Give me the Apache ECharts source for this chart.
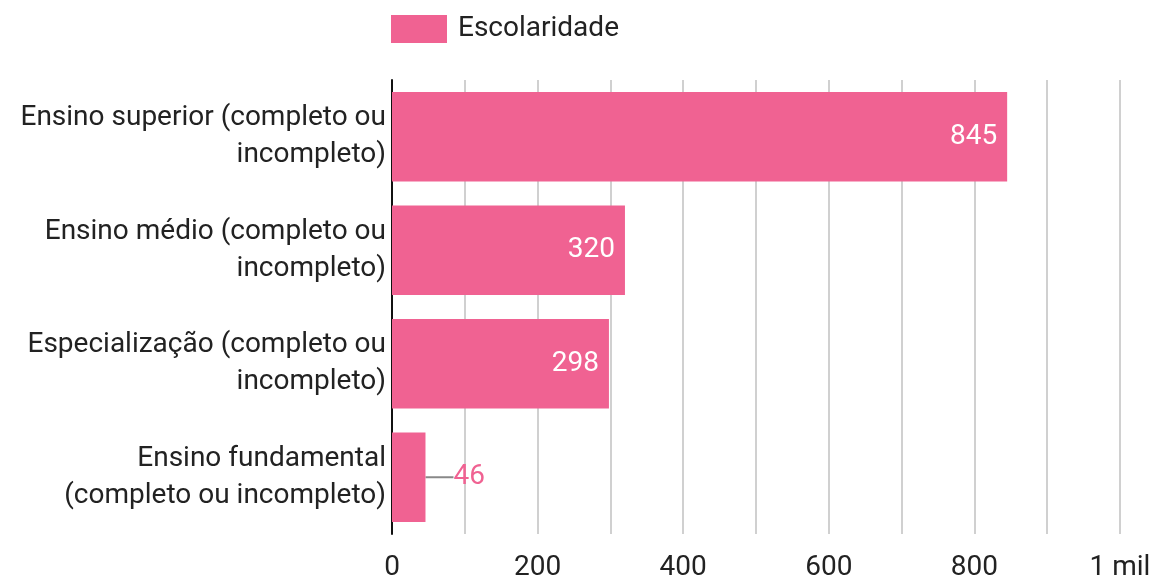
<!DOCTYPE html>
<html>
<head>
<meta charset="utf-8">
<script src="https://cdn.jsdelivr.net/npm/echarts@6/dist/echarts.min.js"></script>
<style>
  html, body { margin: 0; padding: 0; background: #fff; }
  #chart { width: 1153px; height: 577px; }
</style>
</head>
<body>
<div id="chart"></div>
<script>
// categories listed bottom to top (category axis on y starts at bottom)
const categories = [
  'Ensino fundamental\n(completo ou incompleto)',
  'Especialização (completo ou\nincompleto)',
  'Ensino médio (completo ou\nincompleto)',
  'Ensino superior (completo ou\nincompleto)'
]
const values = [46, 298, 320, 845]
const seriesName = 'Escolaridade'
const xTicks = [0, 200, 400, 600, 800, 1000]
const xTickLabels = ['0', '200', '400', '600', '800', '1 mil']

const pink = '#f06292'
const chart = echarts.init(document.getElementById('chart'))

chart.setOption({
  animation: false,
  textStyle: { fontFamily: 'Roboto' },
  legend: {
    data: [{ name: seriesName, icon: 'rect' }],
    left: 391,
    top: 15,
    padding: 0,
    itemWidth: 56,
    itemHeight: 28,
    itemGap: 10,
    textStyle: { fontSize: 28, color: '#222', fontFamily: 'Roboto', padding: [0, 0, 0, 6] }
  },
  grid: {
    left: 392,
    right: 33,
    top: 80,
    bottom: 43,
    outerBoundsMode: 'none'
  },
  xAxis: {
    type: 'value',
    min: 0,
    max: 1000,
    interval: 200,
    axisLine: { show: false },
    axisTick: { show: false },
    axisLabel: {
      fontSize: 28,
      color: '#222',
      margin: 20,
      formatter: (v) => {
        const i = xTicks.indexOf(v)
        return i >= 0 ? xTickLabels[i] : ''
      }
    },
    splitLine: { lineStyle: { color: '#d0d0d0', width: 2 } },
    minorTick: { show: false, splitNumber: 2 },
    minorSplitLine: { show: true, lineStyle: { color: '#d0d0d0', width: 2 } }
  },
  yAxis: {
    type: 'category',
    data: categories,
    axisLine: { show: true, lineStyle: { color: '#111', width: 2 } },
    axisTick: { show: false },
    axisLabel: {
      fontSize: 28,
      color: '#222',
      lineHeight: 37,
      align: 'right',
      margin: 6,
      padding: [7, 0, 0, 0]
    }
  },
  series: [{
    name: seriesName,
    type: 'bar',
    barCategoryGap: '21%',
    itemStyle: { color: pink },
    label: {
      show: true,
      position: 'insideRight',
      distance: 10,
      color: '#fff',
      fontSize: 28
    },
    labelLayout: (params) => {
      if (params.dataIndex === 0) {
        return { dx: 28 }
      }
      return {}
    },
    data: values.map((v, i) => {
      if (i === 0) {
        return {
          value: v,
          label: { position: 'right', distance: 0, color: pink },
          labelLine: { show: true, lineStyle: { color: '#888', width: 2 } }
        }
      }
      return v
    })
  }]
})
</script>
</body>
</html>
